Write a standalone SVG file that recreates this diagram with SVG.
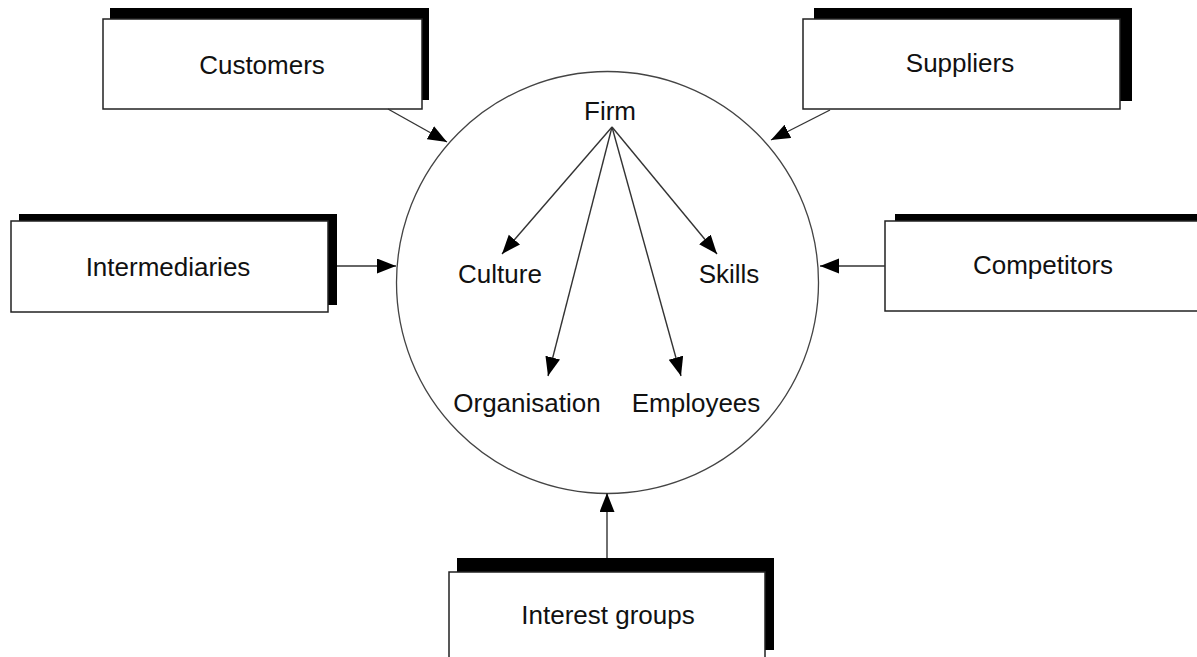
<svg xmlns="http://www.w3.org/2000/svg" width="1197" height="657" viewBox="0 0 1197 657">
<defs>
<style>
.shadow{fill:#000;stroke:none}
.box{fill:#fff;stroke:#222;stroke-width:1.5}
.lbl{font-family:"Liberation Sans",Arial,sans-serif;font-size:26px;fill:#111;text-anchor:middle}
.conn{stroke:#333;stroke-width:1.4;fill:none;marker-end:url(#arr)}
.circ{fill:#fff;stroke:#444;stroke-width:1.3}
</style>
<marker id="arr" markerUnits="userSpaceOnUse" markerWidth="20" markerHeight="16" refX="19" refY="7.5" orient="auto">
<path d="M0,0 L19,7.5 L0,15 z" fill="#000"/>
</marker>
</defs>
<rect width="1197" height="657" fill="#fff"/>
<g id="firm">
<circle class="circ" cx="607.5" cy="282.5" r="211"/>
<text class="lbl" x="610" y="120">Firm</text>
</g>
<g id="culture"><text class="lbl" x="500" y="283">Culture</text></g>
<g id="skills"><text class="lbl" x="729" y="283">Skills</text></g>
<g id="organisation"><text class="lbl" x="527" y="412">Organisation</text></g>
<g id="employees"><text class="lbl" x="696" y="412">Employees</text></g>
<g id="customers">
<rect class="shadow" x="110" y="8" width="319" height="92"/>
<rect class="box" x="103" y="19" width="319" height="90"/>
<text class="lbl" x="262" y="74">Customers</text>
</g>
<g id="suppliers">
<rect class="shadow" x="814" y="8" width="318" height="93"/>
<rect class="box" x="803" y="19" width="317" height="90"/>
<text class="lbl" x="960" y="72">Suppliers</text>
</g>
<g id="intermediaries">
<rect class="shadow" x="19" y="214" width="318" height="91"/>
<rect class="box" x="11" y="221" width="317" height="91"/>
<text class="lbl" x="168" y="276">Intermediaries</text>
</g>
<g id="competitors">
<rect class="shadow" x="895" y="214" width="320" height="91"/>
<rect class="box" x="885" y="221" width="330" height="90"/>
<text class="lbl" x="1043" y="274">Competitors</text>
</g>
<g id="interest-groups">
<rect class="shadow" x="457" y="558" width="317" height="92"/>
<rect class="box" x="449" y="572" width="316" height="100"/>
<text class="lbl" x="608" y="624">Interest groups</text>
</g>
<g id="connectors">
<line class="conn" x1="388" y1="109" x2="447" y2="142"/>
<line class="conn" x1="830" y1="110" x2="771" y2="140"/>
<line class="conn" x1="337" y1="266" x2="396" y2="266"/>
<line class="conn" x1="885" y1="266" x2="820" y2="266"/>
<line class="conn" x1="607" y1="558" x2="607" y2="493"/>
<line class="conn" x1="612" y1="127" x2="502" y2="254"/>
<line class="conn" x1="612" y1="127" x2="717" y2="254"/>
<line class="conn" x1="612" y1="127" x2="548" y2="376"/>
<line class="conn" x1="612" y1="127" x2="681" y2="376"/>
</g>
</svg>
